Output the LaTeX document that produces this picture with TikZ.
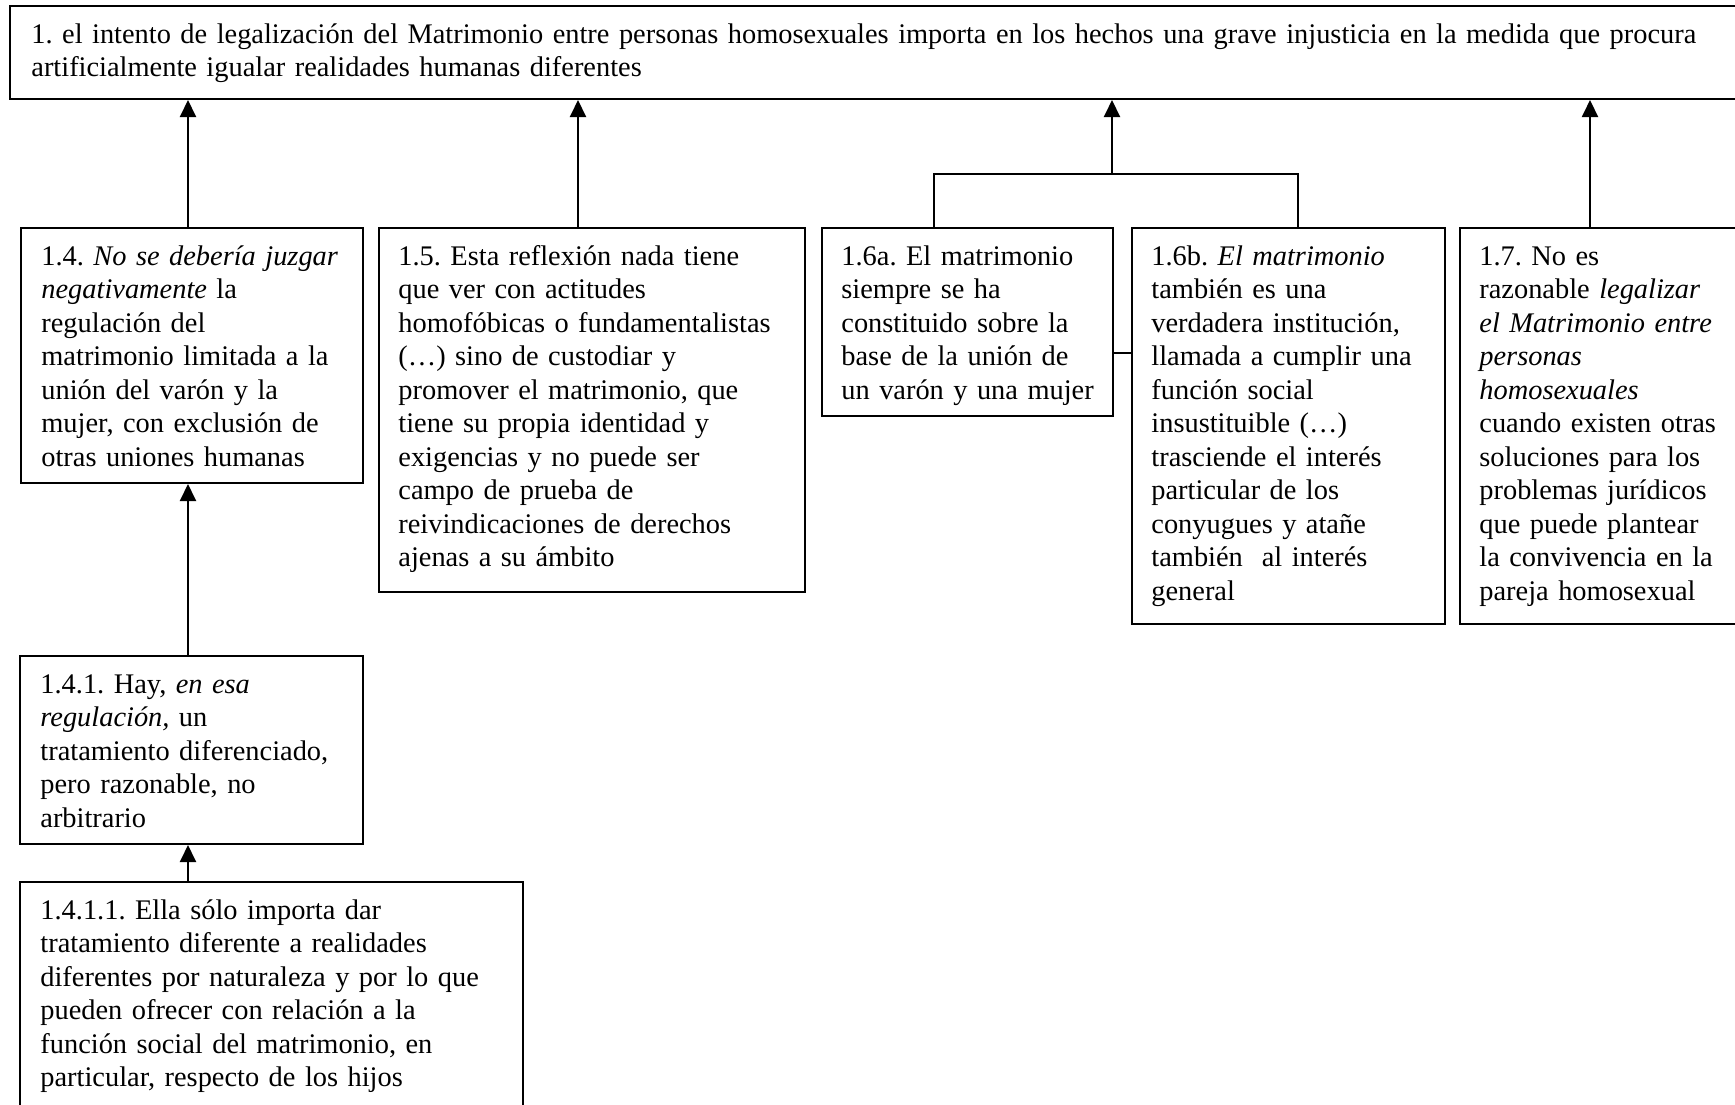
\documentclass[tikz,border=0pt]{standalone}
\usepackage{fontspec}
\setmainfont{Liberation Serif}
\usetikzlibrary{arrows.meta}
\frenchspacing
\begin{document}
\begin{tikzpicture}[x=0.5pt,y=-0.5pt,
  box/.style={draw, line width=1pt, inner sep=0pt, anchor=north west},
  txt/.style={inner sep=0pt, anchor=north west, align=left, text width=#1,
    font=\fontsize{14.2}{16.75}\selectfont\frenchspacing},
  arr/.style={line width=1pt, -{Triangle[length=8.5pt,width=8pt]}},
  link/.style={line width=0.8pt}]
\useasboundingbox (0,0) rectangle (1735,1104);
\clip (0,0) rectangle (1735,1104);
\fill[white] (0,0) rectangle (1735,1104);
% boxes
\node[box, minimum width=875.5pt, minimum height=46.5pt] (top) at (9,5) {};
\node[box, minimum width=171pt, minimum height=127.5pt] (b14) at (20,227) {};
\node[box, minimum width=213pt, minimum height=182pt] (b15) at (378,227) {};
\node[box, minimum width=145.5pt, minimum height=94pt] (b16a) at (821,227) {};
\node[box, minimum width=156.5pt, minimum height=198pt] (b16b) at (1131,227) {};
\node[box, minimum width=200pt, minimum height=198pt] (b17) at (1459,227) {};
\node[box, minimum width=171.5pt, minimum height=94pt] (b141) at (19,655) {};
\node[box, minimum width=251.5pt, minimum height=150pt] (b1411) at (19,881) {};
% texts
\node[txt=860pt] (ttop) at (31,19.5) {\strut 1. el intento de legalización del Matrimonio entre personas homosexuales importa en los hechos una grave injusticia en la medida que procura\\ artificialmente igualar realidades humanas diferentes};
\node[txt=165pt] (t14) at (41,241.5) {\strut 1.4. \textit{No se debería juzgar}\\ \textit{negativamente} la\\ regulación del\\ matrimonio limitada a la\\ unión del varón y la\\ mujer, con exclusión de\\ otras uniones humanas};
\node[txt=205pt] (t15) at (398,241.5) {\strut 1.5. Esta reflexión nada tiene\\ que ver con actitudes\\ homofóbicas o fundamentalistas\\ (…) sino de custodiar y\\ promover el matrimonio, que\\ tiene su propia identidad y\\ exigencias y no puede ser\\ campo de prueba de\\ reivindicaciones de derechos\\ ajenas a su ámbito};
\node[txt=140pt] (t16a) at (841,241.5) {\strut 1.6a. El matrimonio\\ siempre se ha\\ constituido sobre la\\ base de la unión de\\ un varón y una mujer};
\node[txt=150pt] (t16b) at (1151,241.5) {\strut 1.6b. \textit{El matrimonio}\\ también es una\\ verdadera institución,\\ llamada a cumplir una\\ función social\\ insustituible (…)\\ trasciende el interés\\ particular de los\\ conyugues y atañe\\ también\ \ al interés\\ general};
\node[txt=150pt] (t17) at (1479,241.5) {\strut 1.7. No es\\ razonable \textit{legalizar}\\ \textit{el Matrimonio entre}\\ \textit{personas}\\ \textit{homosexuales}\\ cuando existen otras\\ soluciones para los\\ problemas jurídicos\\ que puede plantear\\ la convivencia en la\\ pareja homosexual};
\node[txt=165pt] (t141) at (40,669.5) {\strut 1.4.1. Hay, \textit{en esa}\\ \textit{regulación,} un\\ tratamiento diferenciado,\\ pero razonable, no\\ arbitrario};
\node[txt=245pt] (t1411) at (40,895.5) {\strut 1.4.1.1. Ella sólo importa dar\\ tratamiento diferente a realidades\\ diferentes por naturaleza y por lo que\\ pueden ofrecer con relación a la\\ función social del matrimonio, en\\ particular, respecto de los hijos};
% connector positions
\coordinate (xa) at (188,0);
\coordinate (xb) at (578,0);
\coordinate (xc) at (1112,0);
\coordinate (xd) at (1590,0);
\coordinate (xl) at (934,0);
\coordinate (xr) at (1298,0);
\coordinate (jn) at (1112,174);
\coordinate (yl) at (0,353);
% connectors
\draw[arr] (b14.north -| xa) -- (top.south -| xa);
\draw[arr] (b15.north -| xb) -- (top.south -| xb);
\draw[arr] (jn) -- (top.south -| xc);
\draw[arr] (b17.north -| xd) -- (top.south -| xd);
\draw[link] (b16a.north -| xl) |- (jn) -| (b16b.north -| xr);
\draw[link] (b16a.east |- yl) -- (b16b.west |- yl);
\draw[arr] (b141.north -| xa) -- (b14.south -| xa);
\draw[arr] (b1411.north -| xa) -- (b141.south -| xa);
\end{tikzpicture}
\end{document}
